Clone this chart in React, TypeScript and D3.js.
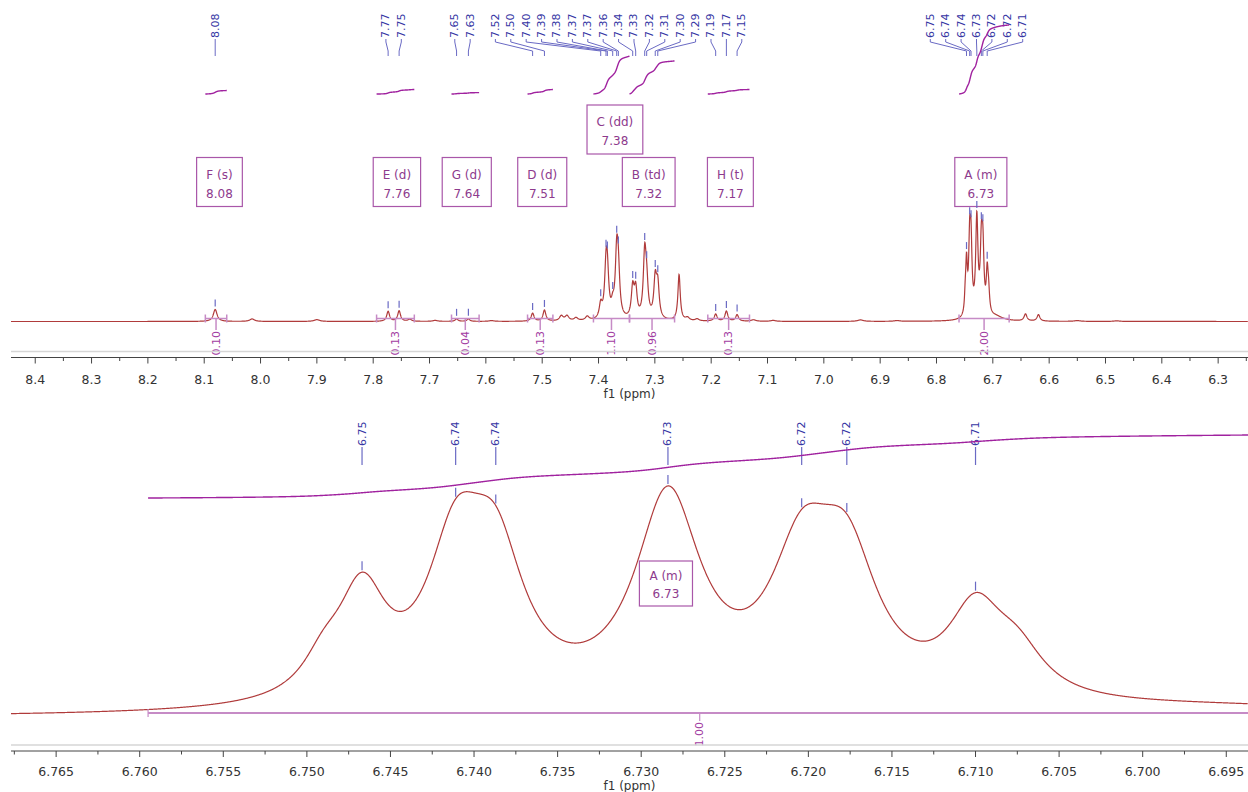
import React from 'react';
import * as d3 from 'd3';

// axis tick labels (ppm)
const topTicks = [8.4, 8.3, 8.2, 8.1, 8.0, 7.9, 7.8, 7.7, 7.6, 7.5, 7.4, 7.3, 7.2, 7.1, 7.0, 6.9, 6.8, 6.7, 6.6, 6.5, 6.4, 6.3];
const zoomTicks = [6.765, 6.76, 6.755, 6.75, 6.745, 6.74, 6.735, 6.73, 6.725, 6.72, 6.715, 6.71, 6.705, 6.7, 6.695];

// spectrum lines: shift (ppm), height, half width (ppm)
const peakShift = [
  8.0805, 8.015, 7.9, 7.7735, 7.754, 7.735, 7.69, 7.652, 7.631, 7.59,
  7.517, 7.496, 7.466, 7.456, 7.44, 7.42,
  7.3961, 7.3867, 7.3843, 7.3748, 7.3677, 7.3648, 7.3393, 7.334, 7.318, 7.3145, 7.2993, 7.2948,
  7.257, 7.242, 7.225, 7.192, 7.173, 7.154, 7.125, 7.09, 6.935, 6.87,
  6.749, 6.7467, 6.7411, 6.7387, 6.7284, 6.7204, 6.7177, 6.71, 6.7075, 6.695,
  6.642, 6.619, 6.55, 6.48,
];
const peakHeight = [
  12, 2.5, 1.8, 10, 10.5, 2, 1, 2.5, 2.5, 0.8,
  8, 11, 5, 5, 3, 4,
  14, 44, 38, 10, 60, 40, 30, 28, 62, 30, 38, 32,
  46, 3, 2, 7, 10, 6.5, 1.5, 1, 1.5, 0.8,
  14, 50, 67, 62, 97, 61, 61, 40, 19, 4,
  7, 6.5, 0.8, 0.6,
];
const peakWidth = [
  0.004, 0.005, 0.006, 0.003, 0.003, 0.004, 0.005, 0.003, 0.003, 0.005,
  0.003, 0.003, 0.004, 0.004, 0.004, 0.004,
  0.003, 0.003, 0.003, 0.003, 0.003, 0.003, 0.003, 0.003, 0.003, 0.003, 0.003, 0.003,
  0.0025, 0.004, 0.004, 0.003, 0.003, 0.003, 0.005, 0.005, 0.006, 0.006,
  0.0015, 0.0018, 0.0021, 0.0021, 0.0024, 0.0023, 0.0023, 0.002, 0.002, 0.015,
  0.003, 0.003, 0.006, 0.006,
];

// picked peaks
const topPicked = [
  8.0805, 7.7735, 7.754, 7.652, 7.631, 7.517, 7.496, 7.3961, 7.3867, 7.3843, 7.3748, 7.3677, 7.3648,
  7.3393, 7.334, 7.318, 7.3145, 7.2993, 7.2948, 7.192, 7.173, 7.154,
  6.7467, 6.7411, 6.7387, 6.7284, 6.7204, 6.7177, 6.71,
];
const zoomPicked = [6.7467, 6.7411, 6.7387, 6.7284, 6.7204, 6.7177, 6.71];

// multiplets and integrals
const multName = ['A (m)', 'B (td)', 'C (dd)', 'D (d)', 'E (d)', 'F (s)', 'G (d)', 'H (t)'];
const multShift = [6.7284, 7.318, 7.378, 7.507, 7.765, 8.08, 7.641, 7.173];
const integFrom = [6.76, 7.345, 7.409, 7.526, 7.794, 8.098, 7.661, 7.206];
const integTo = [6.671, 7.265, 7.345, 7.481, 7.727, 8.06, 7.612, 7.132];
const integValue = [2.0, 0.96, 1.1, 0.13, 0.13, 0.1, 0.04, 0.13];

const zoomIntegFrom = 6.7595;
const zoomIntegTo = 6.6935;
const zoomIntegValue = 1.0;

const FONT = 'DejaVu Sans';
const SPEC = '#b03b3b';
const INTEG = '#a0229f';
const INTEG_LINE = '#c68bc6';
const INTEG_TEXT = '#a23ca2';
const PEAK_TEXT = '#3636a4';
const PEAK_LINE = '#6a6ac4';
const BOX = '#a957a9';
const BOX_TEXT = '#8d3a8d';

function spectrum(p: number) {
  let s = 0;
  for (let i = 0; i < peakShift.length; i++) {
    const d = (p - peakShift[i]) / peakWidth[i];
    s += peakHeight[i] / (1 + d * d);
  }
  return s;
}

// running integral, normalised 0..1
function cumulative(from: number, to: number, step: number) {
  const pts = d3.range(from, to, -step);
  pts.push(to);
  const cum = [0];
  for (let i = 1; i < pts.length; i++) {
    cum.push(cum[i - 1] + ((spectrum(pts[i - 1]) + spectrum(pts[i])) / 2) * Math.abs(pts[i - 1] - pts[i]));
  }
  const total = cum[cum.length - 1];
  return pts.map((p, i) => [p, cum[i] / total] as [number, number]);
}

// spread labels: close peaks form centred groups, then groups that still
// collide push the left-hand group to the left
function spread(xs: number[], gap: number) {
  let groups = xs.map(x => ({ n: 1, sum: x, lo: x, hi: x, c: x }));
  let changed = true;
  while (changed) {
    changed = false;
    for (let g = 0; g < groups.length - 1; g++) {
      const a = groups[g], b = groups[g + 1];
      if (b.lo - a.hi > 3 * gap) continue;
      const aEnd = a.sum / a.n + ((a.n - 1) * gap) / 2;
      const bStart = b.sum / b.n - ((b.n - 1) * gap) / 2;
      if (bStart - aEnd < gap) {
        const n = a.n + b.n, sum = a.sum + b.sum;
        groups.splice(g, 2, { n, sum, lo: a.lo, hi: b.hi, c: sum / n });
        changed = true;
        break;
      }
    }
  }
  for (let g = groups.length - 2; g >= 0; g--) {
    const a = groups[g], b = groups[g + 1];
    const aEnd = a.c + ((a.n - 1) * gap) / 2;
    const bStart = b.c - ((b.n - 1) * gap) / 2;
    if (bStart - aEnd < gap) a.c -= gap - (bStart - aEnd);
  }
  const out: number[] = [];
  groups.forEach(g => {
    for (let k = 0; k < g.n; k++) out.push(g.c + (k - (g.n - 1) / 2) * gap);
  });
  return out;
}

let ctx: CanvasRenderingContext2D | null = null;
function textW(s: string, size: number) {
  if (!ctx && typeof document !== 'undefined') ctx = document.createElement('canvas').getContext('2d');
  if (!ctx) return s.length * size * 0.6;
  ctx.font = `${size}px "${FONT}"`;
  return ctx.measureText(s).width;
}

export default function App() {
  const W = 1248, H = 792;
  const x0 = 11;
  const topX = d3.scaleLinear().domain([8.443, 6.247]).range([x0, W]);
  const zoomX = d3.scaleLinear().domain([6.7677, 6.6937]).range([x0, W]);

  const TOP_BASE = 321.5;
  const ZOOM_BASE = 718;
  const ZOOM_GAIN = 2.1;
  const INT_BASE = 94;
  const INT_PX = 34.5;

  const topGrid = d3.range(8.443, 6.247, -0.0003);
  const topPath = d3.line<number>().x(p => topX(p)).y(p => TOP_BASE - spectrum(p))(topGrid) || '';
  const zoomGrid = d3.range(6.7677, 6.6937, -0.00002);
  const zoomPath = d3.line<number>().x(p => zoomX(p)).y(p => ZOOM_BASE - ZOOM_GAIN * spectrum(p))(zoomGrid) || '';

  // axes
  const axis = (scale: d3.ScaleLinear<number, number>, ticks: number[], step: number, y: number, fmt: number, labelDy: number, titleY: number) => {
    const [d0, d1] = scale.domain();
    const minors = ticks.map(t => t + step / 2).concat([ticks[ticks.length - 1] - step / 2])
      .filter(t => t <= d0 && t >= d1);
    return (
      <g fontFamily={FONT} fontSize={12.5} fill="#333">
        <line x1={x0} x2={W} y1={y - 6} y2={y - 6} stroke="#d6d6d6" strokeWidth={1.5} />
        <line x1={x0} x2={W} y1={y} y2={y} stroke="#444" strokeWidth={1} />
        {ticks.map(t => (
          <g key={t}>
            <line x1={scale(t)} x2={scale(t)} y1={y} y2={y + 6} stroke="#444" />
            <text x={scale(t)} y={y + labelDy} textAnchor="middle">{t.toFixed(fmt)}</text>
          </g>
        ))}
        {minors.map(t => (
          <line key={'m' + t} x1={scale(t)} x2={scale(t)} y1={y} y2={y + 3.5} stroke="#444" />
        ))}
        <text x={(x0 + W) / 2} y={titleY} textAnchor="middle" fontSize={12}>f1 (ppm)</text>
      </g>
    );
  };

  // top picked-peak labels
  const picked = topPicked.map(s => ({ s, px: topX(s) })).sort((a, b) => a.px - b.px);
  const labelX = spread(picked.map(d => d.px), 15.4);

  // multiplet boxes
  const placed: { l: number; r: number; level: number }[] = [];
  const boxes = multName.map((name, i) => {
    const cx = topX(multShift[i]) + 4;
    const w = Math.max(textW(name, 12), textW(multShift[i].toFixed(2), 12)) + 19;
    const l = cx - w / 2, r = cx + w / 2;
    let level = 0;
    while (placed.some(b => b.level === level && l < b.r + 2 && r > b.l - 2)) level++;
    placed.push({ l, r, level });
    return { name, shift: multShift[i], cx, w, top: 157.5 - level * 52.5 };
  });

  const zoomInteg = cumulative(zoomIntegFrom, zoomIntegTo, 0.00002);
  const zoomIntegPath = d3.line<[number, number]>().x(d => zoomX(d[0])).y(d => 498 - d[1] * 63 * zoomIntegValue)(zoomInteg) || '';
  const zoomMid = (zoomIntegFrom + zoomIntegTo) / 2;
  const zBox = { name: multName[0], shift: multShift[0], cx: zoomX(multShift[0]) - 2 };
  const zBoxW = Math.max(textW(zBox.name, 12), textW(zBox.shift.toFixed(2), 12)) + 20;

  return (
    <svg width={W} height={H} style={{ position: 'absolute', left: 0, top: 0, background: '#fff' }}>
      <defs>
        <clipPath id="plot">
          <rect x={x0} y={0} width={W - x0} height={H} />
        </clipPath>
      </defs>

      {/* ---------- top panel ---------- */}
      {picked.map((d, i) => (
        <g key={'pl' + i}>
          <text transform={`translate(${labelX[i]},38) rotate(-90)`} dominantBaseline="central"
            fontFamily={FONT} fontSize={11} fill={PEAK_TEXT}>{d.s.toFixed(2)}</text>
          <path d={`M${labelX[i]},39 V42 L${d.px},51 V56`} fill="none" stroke={PEAK_LINE} strokeWidth={1} />
        </g>
      ))}

      {integFrom.map((f, i) => {
        const pts = cumulative(f, integTo[i], 0.0002);
        const path = d3.line<[number, number]>().x(d => topX(d[0])).y(d => INT_BASE - d[1] * integValue[i] * INT_PX)(pts) || '';
        return <path key={'ic' + i} d={path} fill="none" stroke={INTEG} strokeWidth={1.4} />;
      })}

      {boxes.map(b => (
        <g key={b.name} fontFamily={FONT} fontSize={12} fill={BOX_TEXT} textAnchor="middle">
          <rect x={b.cx - b.w / 2} y={b.top} width={b.w} height={49} fill="#fff" stroke={BOX} strokeWidth={1.2} />
          <text x={b.cx} y={b.top + 21}>{b.name}</text>
          <text x={b.cx} y={b.top + 40}>{b.shift.toFixed(2)}</text>
        </g>
      ))}

      <path d={topPath} fill="none" stroke={SPEC} strokeWidth={1.2} clipPath="url(#plot)" />

      {topPicked.map((s, i) => {
        const yc = TOP_BASE - spectrum(s);
        return <line key={'pt' + i} x1={topX(s)} x2={topX(s)} y1={yc - 10} y2={yc - 3} stroke={PEAK_LINE} strokeWidth={1.2} />;
      })}

      {integFrom.map((f, i) => {
        const a = topX(f), b = topX(integTo[i]), c = topX((f + integTo[i]) / 2);
        return (
          <g key={'il' + i} stroke={INTEG_LINE} strokeWidth={1.5}>
            <line x1={a} x2={b} y1={318.5} y2={318.5} />
            <line x1={a} x2={a} y1={314.5} y2={322.5} />
            <line x1={b} x2={b} y1={314.5} y2={322.5} />
            <line x1={c} x2={c} y1={318.5} y2={330} />
            <text transform={`translate(${c},331) rotate(-90)`} textAnchor="end" dominantBaseline="central"
              fontFamily={FONT} fontSize={11} fill={INTEG_TEXT} stroke="none">{integValue[i].toFixed(2)}</text>
          </g>
        );
      })}

      {axis(topX, topTicks, 0.1, 357.5, 1, 26, 397.5)}

      {/* ---------- zoom panel ---------- */}
      {zoomPicked.map((s, i) => (
        <g key={'zl' + i}>
          <text transform={`translate(${zoomX(s)},446) rotate(-90)`} dominantBaseline="central"
            fontFamily={FONT} fontSize={11} fill={PEAK_TEXT}>{s.toFixed(2)}</text>
          <line x1={zoomX(s)} x2={zoomX(s)} y1={447} y2={465} stroke={PEAK_LINE} strokeWidth={1.2} />
        </g>
      ))}

      <path d={zoomIntegPath} fill="none" stroke={INTEG} strokeWidth={1.4} clipPath="url(#plot)" />

      <path d={zoomPath} fill="none" stroke={SPEC} strokeWidth={1.2} clipPath="url(#plot)" />

      {zoomPicked.map((s, i) => {
        const yc = ZOOM_BASE - ZOOM_GAIN * spectrum(s);
        return <line key={'zt' + i} x1={zoomX(s)} x2={zoomX(s)} y1={yc - 11} y2={yc - 2} stroke={PEAK_LINE} strokeWidth={1.2} />;
      })}

      <g fontFamily={FONT} fontSize={12} fill={BOX_TEXT} textAnchor="middle">
        <rect x={zBox.cx - zBoxW / 2} y={561} width={zBoxW} height={45} fill="#fff" stroke={BOX} strokeWidth={1.2} />
        <text x={zBox.cx} y={580}>{zBox.name}</text>
        <text x={zBox.cx} y={598}>{zBox.shift.toFixed(2)}</text>
      </g>

      <g stroke={INTEG_LINE} strokeWidth={1.8} clipPath="url(#plot)">
        <line x1={zoomX(zoomIntegFrom)} x2={zoomX(zoomIntegTo)} y1={713} y2={713} />
        <line x1={zoomX(zoomIntegFrom)} x2={zoomX(zoomIntegFrom)} y1={709} y2={717} strokeWidth={1.2} />
        <line x1={zoomX(zoomMid)} x2={zoomX(zoomMid)} y1={713} y2={721} strokeWidth={1.2} />
        <text transform={`translate(${zoomX(zoomMid)},722) rotate(-90)`} textAnchor="end" dominantBaseline="central"
          fontFamily={FONT} fontSize={11} fill={INTEG_TEXT} stroke="none">{zoomIntegValue.toFixed(2)}</text>
      </g>

      {axis(zoomX, zoomTicks, 0.005, 751, 3, 24.5, 789.5)}
    </svg>
  );
}
